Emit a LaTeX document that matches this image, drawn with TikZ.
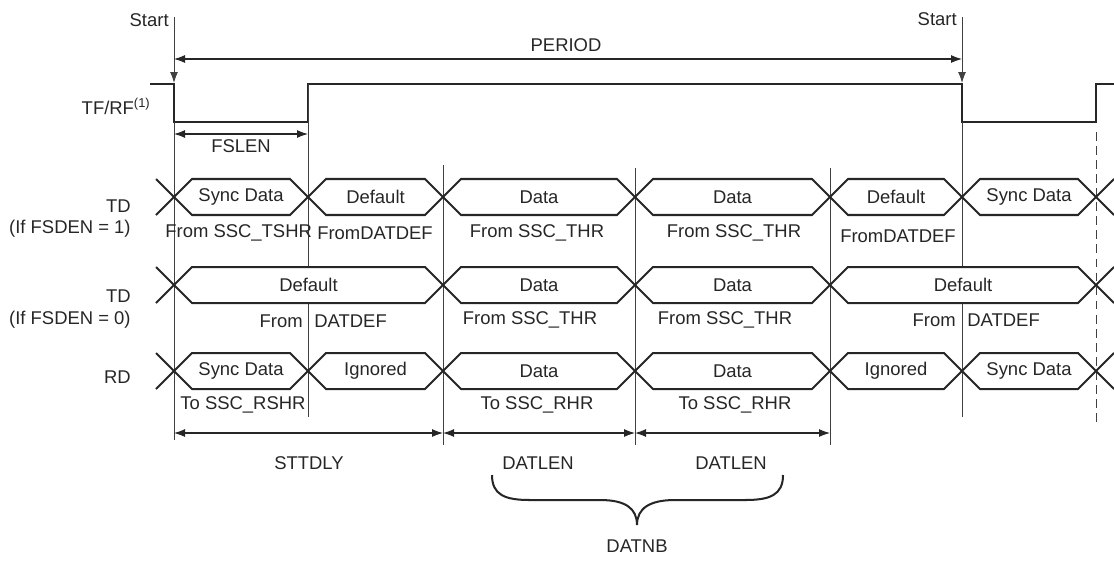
\documentclass[tikz,border=0pt]{standalone}
\usepackage{fontspec}
\setmainfont{Liberation Sans}
\usepackage{tikz}
\usetikzlibrary{arrows.meta}

\begin{document}
\begin{tikzpicture}[x=0.02cm, y=-0.02cm,
         every node/.style={font=\fontsize{10.5}{12}\selectfont, inner sep=0pt, text=black!85},
         bus/.style={line width=1.15pt, draw=black!85},
         wave/.style={line width=1.5pt, draw=black!85},
         guide/.style={line width=0.55pt, draw=black!75},
         span/.style={line width=0.6pt, draw=black!85,
            {Latex[length=2.2mm, width=1.6mm]}-{Latex[length=2.2mm, width=1.6mm]}}]
         \useasboundingbox (0,0) rectangle (1114,562);

         % frame sync
         \coordinate (s1) at (174,17);
         \coordinate (s2) at (962,17);
         \coordinate (e1) at (174,83);
         \coordinate (e2) at (962,83);
         \node (start1) at (169,20) [anchor=east] {Start};
         \node (start2) at (957,19) [anchor=east] {Start};
         \node (tfrf) at (151,106) [anchor=east] {TF/RF\textsuperscript{(1)}};
         \draw [guide, -{Latex[length=2.2mm, width=1.6mm]}] (s1) -- (e1);
         \draw [guide, -{Latex[length=2.2mm, width=1.6mm]}] (s2) -- (e2);
         \draw [wave] (150,84) -- (174,84) -- (174,122) -- (308,122) -- (308,84)
            -- (962,84) -- (962,122) -- (1096,122) -- (1096,84) -- (1114,84);

         \coordinate (p1) at (174,59);
         \coordinate (p2) at (962,59);
         \draw [span] (p1) -- (p2);
         \node (period) at (566,45) {PERIOD};
         \coordinate (f1) at (174,134);
         \coordinate (f2) at (308,134);
         \draw [span] (f1) -- (f2);
         \node (fslen) at (241,146) {FSLEN};

         % guide lines
         \draw [guide] (174,122) -- (174,440);
         \draw [guide] (308,84) -- (308,267);
         \draw [guide] (308,304) -- (308,417);
         \draw [guide] (443,165) -- (443,445);
         \draw [guide] (635,168) -- (635,445);
         \draw [guide] (830,168) -- (830,445);
         \draw [guide] (962,122) -- (962,267);
         \draw [guide] (962,304) -- (962,417);
         \draw [guide, dash pattern=on 5pt off 3pt] (1096,132) -- (1096,423);

         % TD, FSDEN = 1
         \node (td1) at (131,206) [anchor=east] {TD};
         \node (td1c) at (131,229) [anchor=east] {(If FSDEN = 1)};
         \draw [bus] (156,179) -- (174,197) -- (156,215);
         \draw [bus] (1114,179) -- (1096,197) -- (1114,215);
         \foreach \a/\b/\t [count=\i] in {174/308/Sync Data, 308/443/Default,
               443/635/Data, 635/830/Data, 830/962/Default, 962/1096/Sync Data} {
            \draw [bus] (\a,197) -- (\a+18,179) -- (\b-18,179) -- (\b,197)
               -- (\b-18,215) -- (\a+18,215) -- cycle;
            \node (tdA\i) at ({(\a+\b)/2},197) {\t};
         }
         \node (srcA1) at (165,233) [anchor=west] {From SSC\_TSHR};
         \node (srcA2) at (375,233) {FromDATDEF};
         \node (srcA3) at (537,233) {From SSC\_THR};
         \node (srcA4) at (734,233) {From SSC\_THR};
         \node (srcA5) at (898,236) {FromDATDEF};

         % TD, FSDEN = 0
         \node (td0) at (131,296) [anchor=east] {TD};
         \node (td0c) at (131,320) [anchor=east] {(If FSDEN = 0)};
         \draw [bus] (156,267) -- (174,285) -- (156,303);
         \draw [bus] (1114,267) -- (1096,285) -- (1114,303);
         \foreach \a/\b/\t [count=\i] in {174/443/Default, 443/635/Data,
               635/830/Data, 830/1096/Default} {
            \draw [bus] (\a,285) -- (\a+18,267) -- (\b-18,267) -- (\b,285)
               -- (\b-18,303) -- (\a+18,303) -- cycle;
            \node (tdB\i) at ({(\a+\b)/2},285) {\t};
         }
         \node (srcB1) at (303,321) [anchor=east] {From};
         \node (srcB2) at (314,321) [anchor=west] {DATDEF};
         \node (srcB3) at (530,320) {From SSC\_THR};
         \node (srcB4) at (725,320) {From SSC\_THR};
         \node (srcB5) at (956,320) [anchor=east] {From};
         \node (srcB6) at (967,320) [anchor=west] {DATDEF};

         % RD
         \node (rd) at (131,377) [anchor=east] {RD};
         \draw [bus] (156,353) -- (174,371) -- (156,389);
         \draw [bus] (1114,353) -- (1096,371) -- (1114,389);
         \foreach \a/\b/\t [count=\i] in {174/308/Sync Data, 308/443/Ignored,
               443/635/Data, 635/830/Data, 830/962/Ignored, 962/1096/Sync Data} {
            \draw [bus] (\a,371) -- (\a+18,353) -- (\b-18,353) -- (\b,371)
               -- (\b-18,389) -- (\a+18,389) -- cycle;
            \node (rdC\i) at ({(\a+\b)/2},371) {\t};
         }
         \node (dstC1) at (243,405) {To SSC\_RSHR};
         \node (dstC2) at (537,405) {To SSC\_RHR};
         \node (dstC3) at (735,405) {To SSC\_RHR};

         % lengths
         \coordinate (d0) at (174,433);
         \coordinate (d1) at (443,433);
         \coordinate (d2) at (635,433);
         \coordinate (d3) at (830,433);
         \draw [span] (d0) -- (d1);
         \draw [span] (d1) -- (d2);
         \draw [span] (d2) -- (d3);
         \node (sttdly) at (309,463) {STTDLY};
         \node (datlen1) at (538,463) {DATLEN};
         \node (datlen2) at (731,463) {DATLEN};
         \draw [bus] (492,475) .. controls (492,495) and (505,500) .. (530,500)
            -- (600,500) .. controls (625,500) and (637,508) .. (637,525)
            .. controls (637,508) and (650,500) .. (675,500)
            -- (745,500) .. controls (770,500) and (783,495) .. (783,475);
         \node (datnb) at (637,546) {DATNB};
      \end{tikzpicture}
\end{document}
